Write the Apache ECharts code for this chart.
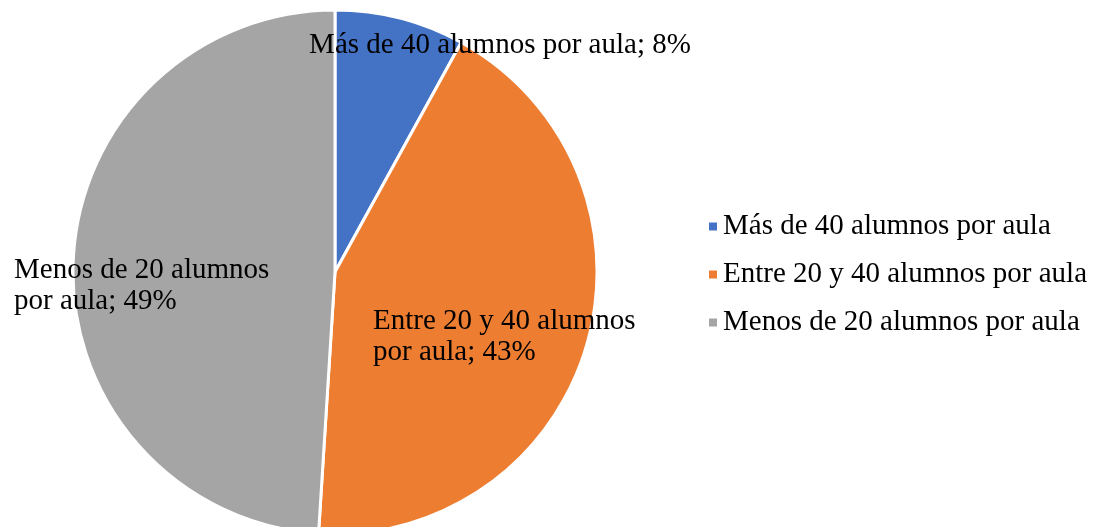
<!DOCTYPE html>
<html>
<head>
<meta charset="utf-8">
<script src="https://cdn.jsdelivr.net/npm/echarts@6/dist/echarts.min.js"></script>
<style>
  html, body { margin: 0; padding: 0; background: #fff; }
  #chart { width: 1094px; height: 527px; }
</style>
</head>
<body>
<div id="chart"></div>
<script>
var categories = ['Más de 40 alumnos por aula', 'Entre 20 y 40 alumnos por aula', 'Menos de 20 alumnos por aula'];
var values = [8, 43, 49];
var colors = ['#4472C4', '#ED7D31', '#A5A5A5'];
// label text as Excel wrapped it
var labelTexts = ['Más de 40 alumnos por aula; 8%', 'Entre 20 y 40 alumnos\npor aula; 43%', 'Menos de 20 alumnos\npor aula; 49%'];
// where the data labels sit (x, y, align)
var labelSpots = [[500, 45, 'center'], [373, 337, 'left'], [14, 286, 'left']];

var font = '"Liberation Serif", "Times New Roman", serif';

var option = {
  animation: false,
  legend: {
    orient: 'vertical',
    left: 702,
    top: 207,
    icon: 'rect',
    itemWidth: 10,
    itemHeight: 10,
    itemGap: 19,
    data: categories,
    textStyle: { fontFamily: font, fontSize: 29, lineHeight: 29, color: '#000' }
  },
  series: [{
    type: 'pie',
    center: [335, 272],
    radius: 262,
    startAngle: 90,
    clockwise: true,
    color: colors,
    itemStyle: { borderColor: '#fff', borderWidth: 3 },
    label: {
      show: true,
      position: 'inside',
      fontFamily: font,
      fontSize: 29,
      lineHeight: 31,
      color: '#000',
      formatter: function (p) { return labelTexts[p.dataIndex]; }
    },
    labelLine: { show: false },
    labelLayout: function (p) {
      var s = labelSpots[p.dataIndex];
      return { x: s[0], y: s[1], align: s[2], verticalAlign: 'middle' };
    },
    emphasis: { disabled: true },
    data: categories.map(function (c, i) { return { name: c, value: values[i] }; })
  }]
};

var myChart = echarts.init(document.getElementById('chart'));
myChart.setOption(option);
</script>
</body>
</html>
